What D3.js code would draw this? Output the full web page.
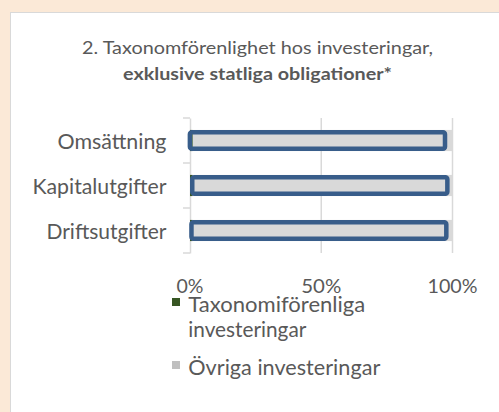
<!DOCTYPE html>
<html><head><meta charset="utf-8">
<script src="https://cdn.jsdelivr.net/npm/d3@7"></script>
<style>
html,body{margin:0;padding:0;background:#FBE9D7;}
svg{display:block;}
</style></head>
<body>
<svg id="c" width="499" height="412"></svg>
<script>
const categories = ["Omsättning", "Kapitalutgifter", "Driftsutgifter"];
const aligned = [1, 1, 1];          // Taxonomiförenliga investeringar (%)
const other = [99, 99, 99];         // Övriga investeringar (%)
const highlightStart = [-0.9, 0, -0.3];   // outline overlay start (%)
const highlightEnd = [98.0, 98.9, 98.5];  // outline overlay end (%)
const xTicks = [0, 50, 100];
const tickLabels = ["0%", "50%", "100%"];
const titleLines = ["2. Taxonomförenlighet hos investeringar,", "exklusive statliga obligationer*"];
const legendLabels = [["Taxonomiförenliga", "investeringar"], ["Övriga investeringar"]];
const legendColors = ["#375623", "#BFBFBF"];

// styling: rendered text widths (px) to match the reference typeface
const textWidths = {
  "2. Taxonomförenlighet hos investeringar,": 351,
  "exklusive statliga obligationer*": 269,
  "Omsättning": 109, "Kapitalutgifter": 134, "Driftsutgifter": 120,
  "0%": 27, "50%": 40, "100%": 50,
  "Taxonomiförenliga": 177, "investeringar": 118, "Övriga investeringar": 192
};

const FONT = "Lato, 'Open Sans', sans-serif";
const TXT = "#595959";
const svg = d3.select("#c");

function addText(str, xStart, yBase, size, weight, fill) {
  return svg.append("text").attr("x", xStart).attr("y", yBase)
    .attr("font-family", FONT).attr("font-size", size).attr("font-weight", weight || "normal")
    .attr("fill", fill || TXT)
    .attr("textLength", textWidths[str]).attr("lengthAdjust", "spacingAndGlyphs")
    .text(str);
}

// panel
svg.append("rect").attr("x", 10.5).attr("y", 12.5).attr("width", 520).attr("height", 420)
  .attr("fill", "#fff").attr("stroke", "#D9D9D9").attr("stroke-width", 1);

// title
const titleCx = 257.5;
addText(titleLines[0], titleCx - textWidths[titleLines[0]] / 2, 54.3, 17.5, "normal");
addText(titleLines[1], titleCx - textWidths[titleLines[1]] / 2, 80, 17.5, "bold");

const x = d3.scaleLinear().domain([0, 100]).range([190, 452.5]);
const y = d3.scaleBand().domain(categories).range([118, 253]).paddingInner(0.53).paddingOuter(0.265);

// gridlines
svg.append("g").selectAll("line").data(xTicks.slice(1)).join("line")
  .attr("x1", d => x(d)).attr("x2", d => x(d)).attr("y1", 118).attr("y2", 253)
  .attr("stroke", "#D9D9D9").attr("stroke-width", 1.5);

// category axis
const yAxis = d3.axisLeft(y).tickSize(0).tickPadding(0).tickFormat(() => "");
const ga = svg.append("g").attr("transform", `translate(${x(0)},0)`).call(yAxis);
ga.select(".domain").attr("stroke", "#D9D9D9").attr("stroke-width", 1.5);
const bounds = [118].concat(categories.map(c => y(c) + y.bandwidth() + y.step() * y.paddingInner() / 2));
bounds[bounds.length - 1] = 253;
svg.append("g").selectAll("line").data(bounds).join("line")
  .attr("x1", x(0) - 7).attr("x2", x(0)).attr("y1", d => d).attr("y2", d => d)
  .attr("stroke", "#D9D9D9").attr("stroke-width", 1.5);

// category labels (right-aligned at 166.5)
categories.forEach(c => {
  addText(c, 166.5 - textWidths[c], y(c) + y.bandwidth() / 2 + 8.5, 20.5, "normal");
});

// stacked bars
const rows = categories.map((c, i) => ({c, a: aligned[i], o: other[i], hs: highlightStart[i], he: highlightEnd[i]}));
svg.append("g").selectAll("rect").data(rows).join("rect")
  .attr("x", d => x(d.a)).attr("width", d => x(d.a + d.o) - x(d.a))
  .attr("y", d => y(d.c)).attr("height", y.bandwidth()).attr("fill", "#D9D9D9");
svg.append("g").selectAll("rect").data(rows).join("rect")
  .attr("x", d => x(0)).attr("width", d => x(d.a) - x(0))
  .attr("y", d => y(d.c)).attr("height", y.bandwidth()).attr("fill", "#375623");
const sw = 4.5;
svg.append("g").selectAll("rect").data(rows).join("rect")
  .attr("x", d => x(d.hs) + sw / 2).attr("width", d => x(d.he) - x(d.hs) - sw)
  .attr("y", d => y(d.c) + sw / 2).attr("height", y.bandwidth() - sw)
  .attr("rx", 2).attr("fill", "none").attr("stroke", "#385D8A").attr("stroke-width", sw);

// x tick labels
xTicks.forEach((d, i) => {
  const s = tickLabels[i];
  addText(s, x(d) - textWidths[s] / 2, 293, 19.5, "normal");
});

// legend
const legY = [312, 375];
legendLabels.forEach((lines, i) => {
  svg.append("rect").attr("x", 172).attr("y", legY[i] - 14).attr("width", 8).attr("height", 8)
    .attr("fill", legendColors[i]);
  lines.forEach((l, j) => addText(l, 188.3, legY[i] + j * 25, 20.5, "normal"));
});
</script>
</body></html>
